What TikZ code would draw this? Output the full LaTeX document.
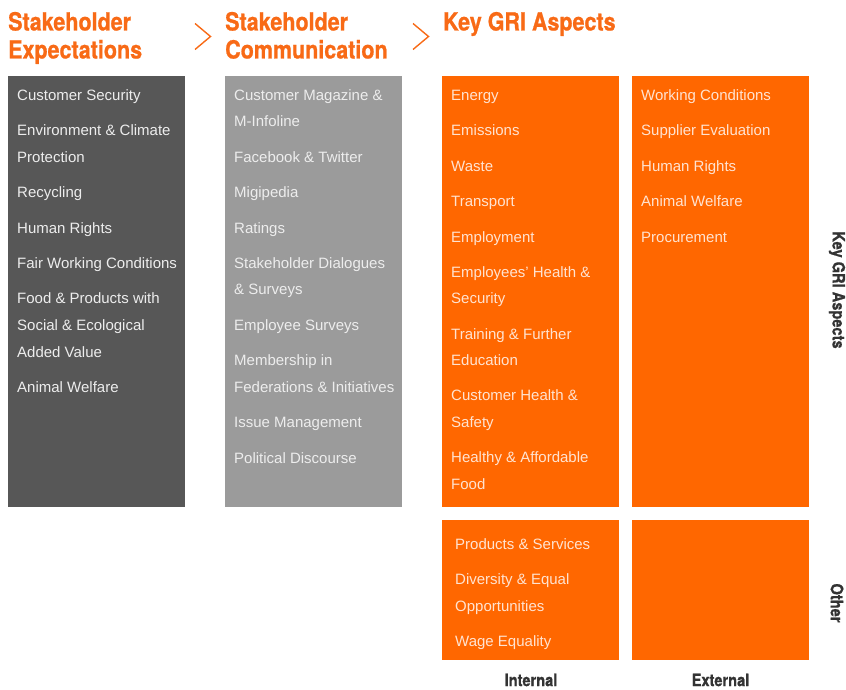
\documentclass[tikz,border=0pt]{standalone}
\usepackage{fontspec}
\setmainfont{Liberation Sans}
\newfontfamily\headfont[FakeStretch=0.86,FakeBold=0.8]{TeX Gyre Heros}
\definecolor{hdorange}{HTML}{F86A16}
\definecolor{boxorange}{HTML}{FF6700}
\definecolor{darkbox}{HTML}{575757}
\definecolor{lightbox}{HTML}{9B9B9B}
\definecolor{txtgray}{HTML}{EDEDED}
\definecolor{txtorange}{HTML}{FFE3D1}
\definecolor{lbl}{HTML}{333333}
\tikzset{
  head/.style={anchor=base west, inner sep=0pt, text=hdorange, font=\headfont\bfseries\fontsize{25}{28}\selectfont},
  item/.style={anchor=base west, inner sep=0pt, font=\fontsize{15}{18}\selectfont},
  gitem/.style={item, text=txtgray},
  oitem/.style={item, text=txtorange},
  side/.style={inner sep=0pt, text=lbl, font=\headfont\bfseries\fontsize{17}{20}\selectfont},
  chev/.style={draw=hdorange, line width=1.4pt, line join=miter},
}
\begin{document}
\begin{tikzpicture}[x=1pt,y=-1pt]
\useasboundingbox (0,0) rectangle (846,690);
% headers
\node[head] (h1a) at (8,30.5) {Stakeholder};
\node[head] (h1b) at (8,58.5) {Expectations};
\node[head] (h2a) at (225,30.5) {Stakeholder};
\node[head] (h2b) at (225,58.5) {Communication};
\node[head] (h3) at (443,30.5) {Key GRI Aspects};
% chevrons
\coordinate (c1t) at (195,23.5); \coordinate (c1m) at (210.5,36.5); \coordinate (c1b) at (195,49.5);
\coordinate (c2t) at (413,23.5); \coordinate (c2m) at (428.5,36.5); \coordinate (c2b) at (413,49.5);
\draw[chev] (c1t) -- (c1m) -- (c1b);
\draw[chev] (c2t) -- (c2m) -- (c2b);
% boxes
\fill[darkbox] (8,76) rectangle (185,507);
\fill[lightbox] (225,76) rectangle (402,507);
\fill[boxorange] (442,76) rectangle (619,507);
\fill[boxorange] (632,76) rectangle (809,507);
\fill[boxorange] (442,520) rectangle (619,660);
\fill[boxorange] (632,520) rectangle (809,660);
% column 1
\foreach \t/\y [count=\i] in {Customer Security/95, Environment \& Climate/130, Protection/157, Recycling/192, Human Rights/228, Fair Working Conditions/263, Food \& Products with/298, Social \& Ecological/325, Added Value/352, Animal Welfare/387}
  {\node[gitem] (a\i) at (17,\y+5.3) {\t};}
% column 2
\foreach \t/\y [count=\i] in {Customer Magazine \&/95, M-Infoline/121, Facebook \& Twitter/157, Migipedia/192, Ratings/228, Stakeholder Dialogues/263, \& Surveys/289, Employee Surveys/325, Membership in/360, Federations \& Initiatives/387, Issue Management/422, Political Discourse/458}
  {\node[gitem] (b\i) at (234,\y+5.3) {\t};}
% column 3
\foreach \t/\y [count=\i] in {Energy/95, Emissions/130, Waste/166, Transport/201, Employment/237, Employees' Health \&/272, Security/298, Training \& Further/334, Education/360, Customer Health \&/395, Safety/422, Healthy \& Affordable/457, Food/484}
  {\node[oitem] (c\i) at (451,\y+5.3) {\t};}
% column 4
\foreach \t/\y [count=\i] in {Working Conditions/95, Supplier Evaluation/130, Human Rights/166, Animal Welfare/201, Procurement/237}
  {\node[oitem] (d\i) at (641,\y+5.3) {\t};}
% bottom internal
\foreach \t/\y [count=\i] in {Products \& Services/544, Diversity \& Equal/579, Opportunities/606, Wage Equality/641}
  {\node[oitem] (e\i) at (455,\y+5.3) {\t};}
% axis labels
\node[side] (int) at (531,680) {Internal};
\node[side] (ext) at (720.5,680) {External};
\node[side, rotate=-90] (kga) at (837,290) {Key GRI Aspects};
\node[side, rotate=-90] (oth) at (837,603) {Other};
\end{tikzpicture}
\end{document}
